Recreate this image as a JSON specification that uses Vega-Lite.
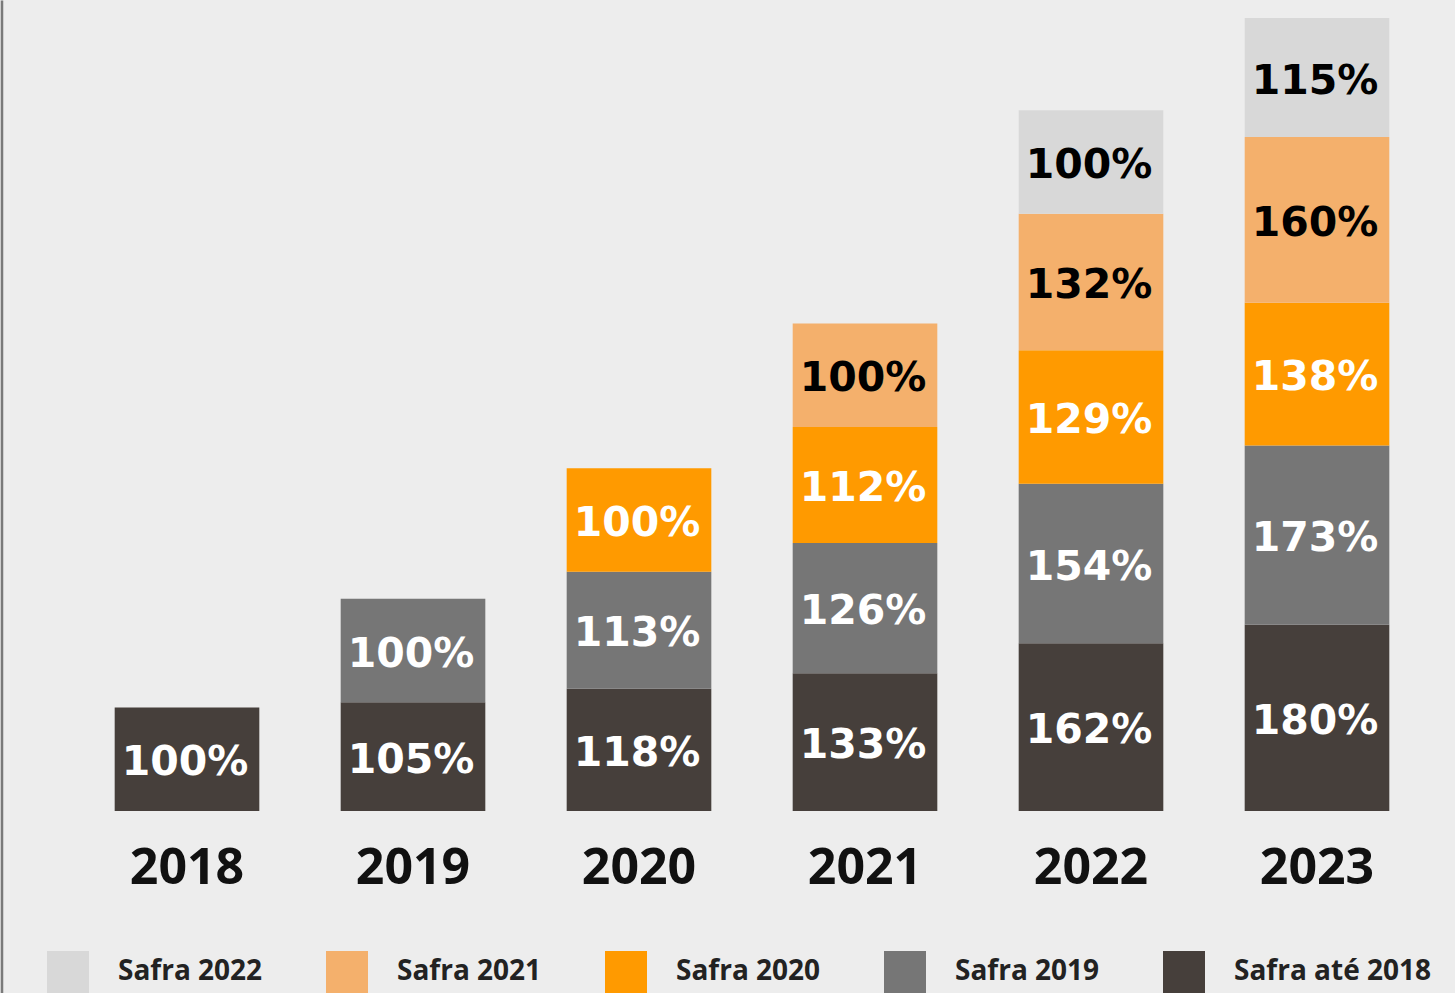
{
  "$schema": "https://vega.github.io/schema/vega-lite/v6.json",
  "width": 1356,
  "height": 993,
  "autosize": {"type": "none"},
  "padding": {"left": 74, "top": 0, "right": 25, "bottom": 0},
  "background": "#ededed",
  "config": {"view": {"stroke": null}},
  "data": {"values": [
    {"ano": "2018", "safra": "Safra até 2018", "cohort": 2018, "v": 1.00},
    {"ano": "2019", "safra": "Safra até 2018", "cohort": 2018, "v": 1.05},
    {"ano": "2019", "safra": "Safra 2019", "cohort": 2019, "v": 1.00},
    {"ano": "2020", "safra": "Safra até 2018", "cohort": 2018, "v": 1.18},
    {"ano": "2020", "safra": "Safra 2019", "cohort": 2019, "v": 1.13},
    {"ano": "2020", "safra": "Safra 2020", "cohort": 2020, "v": 1.00},
    {"ano": "2021", "safra": "Safra até 2018", "cohort": 2018, "v": 1.33},
    {"ano": "2021", "safra": "Safra 2019", "cohort": 2019, "v": 1.26},
    {"ano": "2021", "safra": "Safra 2020", "cohort": 2020, "v": 1.12},
    {"ano": "2021", "safra": "Safra 2021", "cohort": 2021, "v": 1.00},
    {"ano": "2022", "safra": "Safra até 2018", "cohort": 2018, "v": 1.62},
    {"ano": "2022", "safra": "Safra 2019", "cohort": 2019, "v": 1.54},
    {"ano": "2022", "safra": "Safra 2020", "cohort": 2020, "v": 1.29},
    {"ano": "2022", "safra": "Safra 2021", "cohort": 2021, "v": 1.32},
    {"ano": "2022", "safra": "Safra 2022", "cohort": 2022, "v": 1.00},
    {"ano": "2023", "safra": "Safra até 2018", "cohort": 2018, "v": 1.80},
    {"ano": "2023", "safra": "Safra 2019", "cohort": 2019, "v": 1.73},
    {"ano": "2023", "safra": "Safra 2020", "cohort": 2020, "v": 1.38},
    {"ano": "2023", "safra": "Safra 2021", "cohort": 2021, "v": 1.60},
    {"ano": "2023", "safra": "Safra 2022", "cohort": 2022, "v": 1.15}
  ]},
  "encoding": {
    "x": {
      "field": "ano", "type": "nominal",
      "scale": {"paddingInner": 0.36, "paddingOuter": 0.18},
      "axis": {
        "title": null, "orient": "bottom", "offset": -182,
        "domain": false, "ticks": false, "tickSize": 0,
        "labelAngle": 0, "labelFont": "Open Sans", "labelFontWeight": "bold",
        "labelFontSize": 50, "labelColor": "#111111",
        "labelBaseline": "alphabetic", "labelPadding": 72
      }
    }
  },
  "layer": [
    {
      "mark": {"type": "bar"},
      "encoding": {
        "y": {
          "field": "v", "type": "quantitative", "stack": "zero",
          "scale": {"domain": [-1.758, 7.834], "nice": false, "zero": false},
          "axis": {
            "title": null, "labels": false, "ticks": false, "grid": false,
            "domain": true, "domainColor": "#7a7a7a", "domainWidth": 2.5, "offset": 72.5
          }
        },
        "color": {
          "field": "safra", "type": "nominal",
          "scale": {
            "domain": ["Safra 2022", "Safra 2021", "Safra 2020", "Safra 2019", "Safra até 2018"],
            "range": ["#d8d8d8", "#f4b06c", "#ff9a00", "#767676", "#463f3b"]
          },
          "legend": {
            "title": null, "orient": "none", "legendX": -27, "legendY": 951,
            "direction": "horizontal", "columns": 5, "padding": 0,
            "symbolType": "square", "symbolSize": 1764, "symbolStrokeWidth": 0,
            "symbolOpacity": 1,
            "labelFont": "Open Sans", "labelFontWeight": "bold", "labelFontSize": 28,
            "labelColor": "#222222", "labelOffset": 29, "columnPadding": 63, "labelLimit": 400
          }
        },
        "order": {"field": "cohort", "type": "quantitative", "sort": "ascending"}
      }
    },
    {
      "mark": {"type": "text", "font": "DejaVu Sans", "fontWeight": "bold", "fontSize": 41, "baseline": "middle", "align": "center", "dy": 4, "dx": -2},
      "encoding": {
        "y": {"field": "v", "type": "quantitative", "stack": "zero", "bandPosition": 0.5},
        "text": {"field": "v", "type": "quantitative", "format": ".0%"},
        "order": {"field": "cohort", "type": "quantitative", "sort": "ascending"},
        "color": {
          "condition": {"test": "datum.safra == 'Safra 2021' || datum.safra == 'Safra 2022'", "value": "#000000"},
          "value": "#ffffff"
        }
      }
    }
  ]
}
